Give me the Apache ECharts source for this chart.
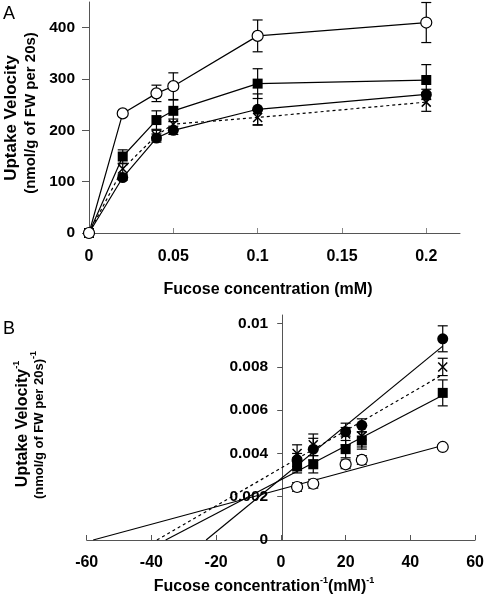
<!DOCTYPE html>
<html><head><meta charset="utf-8">
<script src="https://cdn.jsdelivr.net/npm/echarts@6/dist/echarts.min.js"></script>
<style>html,body{margin:0;padding:0;background:#fff}#c{width:487px;height:607px}</style>
</head><body><div id="c"></div>
<script>
// Panel A data
const concA = [0, 0.02, 0.04, 0.05, 0.1, 0.2];
const openA = [0, 233, 272, 286, 384, 410];
const openAErr = [0, 3, 16, 26, 31, 39];
const squareA = [0, 149, 220, 238, 291, 298];
const squareAErr = [0, 13, 18, 21, 29, 30];
const filledA = [0, 108, 185, 200, 241, 270];
const filledAErr = [0, 5, 8, 8, 30, 10];
const crossA = [0, 125, 190, 212, 225, 255];
const crossAErr = [0, 10, 10, 10, 15, 18];
const xTicksA = [0, 0.05, 0.1, 0.15, 0.2];
const yTicksA = [0, 100, 200, 300, 400];

// Panel B data (double reciprocal)
const invB = [5, 10, 20, 25, 50];
const openB = [0.00245, 0.0026, 0.0035, 0.0037, 0.0043];
const openBErr = [0.0002, 0.0002, 0.0002, 0.0002, 0.0001];
const squareB = [0.0034, 0.0035, 0.0042, 0.0046, 0.0068];
const squareBErr = [0.0003, 0.0004, 0.0004, 0.0004, 0.0006];
const filledB = [0.0037, 0.0042, 0.0050, 0.0053, 0.0093];
const filledBErr = [0.0003, 0.0005, 0.0002, 0.0003, 0.0006];
const crossB = [0.0040, 0.0044, 0.0049, 0.0048, 0.0080];
const crossBErr = [0.0004, 0.0005, 0.0005, 0.0005, 0.0004];
const fitOpenB = [[-58, 0], [50, 0.00437]];
const fitSquareB = [[-35.6, 0], [50, 0.00669]];
const fitFilledB = [[-23.1, 0], [50, 0.00896]];
const fitCrossB = [[-38.3, 0], [50, 0.00765]];
const xTicksB = [-60, -40, -20, 0, 20, 40, 60];
const yTicksB = [0, 0.002, 0.004, 0.006, 0.008, 0.01];

const FONT = '"Liberation Sans", Arial, sans-serif';
const chart = echarts.init(document.getElementById('c'));
const pairs = (xs, ys) => xs.map((x, i) => [x, ys[i]]);
const errs = (xs, ys, es) => xs.map((x, i) => [x, ys[i] - es[i], ys[i] + es[i]]);
function errRender(params, api) {
  const x = api.value(0), lo = api.value(1), hi = api.value(2);
  const p1 = api.coord([x, lo]), p2 = api.coord([x, hi]);
  const w = 5;
  const st = { stroke: '#000', lineWidth: 1.2 };
  return { type: 'group', children: [
    { type: 'line', shape: { x1: p1[0], y1: p1[1], x2: p2[0], y2: p2[1] }, style: st },
    { type: 'line', shape: { x1: p1[0] - w, y1: p1[1], x2: p1[0] + w, y2: p1[1] }, style: st },
    { type: 'line', shape: { x1: p2[0] - w, y1: p2[1], x2: p2[0] + w, y2: p2[1] }, style: st }
  ]};
}
const crossPath = 'path://M0,0L10,10M10,0L0,10';
const mk = {
  open: { symbol: 'circle', symbolSize: 11, itemStyle: { color: '#fff', borderColor: '#000', borderWidth: 1.2, opacity: 1 } },
  square: { symbol: 'rect', symbolSize: 10, itemStyle: { color: '#000', borderColor: '#000', borderWidth: 0, opacity: 1 } },
  filled: { symbol: 'circle', symbolSize: 11, itemStyle: { color: '#000', borderColor: '#000', borderWidth: 0, opacity: 1 } },
  cross: { symbol: crossPath, symbolSize: 9, itemStyle: { color: 'none', borderColor: '#000', borderWidth: 1.5, opacity: 1 } }
};
function errSeries(xi, yi, data) {
  return { type: 'custom', xAxisIndex: xi, yAxisIndex: yi, renderItem: errRender, data: data, z: 2, silent: true };
}
function lineSeries(xi, yi, data, m, dashed, showSym) {
  return Object.assign({ type: 'line', xAxisIndex: xi, yAxisIndex: yi, data: data, z: 3, silent: true,
    showSymbol: showSym, lineStyle: { color: '#000', width: 1.2, type: dashed ? [3, 3] : 'solid' } }, m);
}
function scatterSeries(xi, yi, data, m) {
  return Object.assign({ type: 'scatter', xAxisIndex: xi, yAxisIndex: yi, data: data, z: 4, silent: true }, m);
}
const lab = (size) => ({ color: '#000', fontFamily: FONT, fontWeight: 'bold', fontSize: size });
const axLine = { show: true, onZero: false, lineStyle: { color: '#555', width: 1 } };
const txt = (s, size) => ({ text: s, fontFamily: FONT, fontWeight: 'bold', fontSize: size, fill: '#000', align: 'center', verticalAlign: 'middle',
  rich: { s: { fontFamily: FONT, fontWeight: 'bold', fontSize: 9, fill: '#000', padding: [0, 0, Math.round(size * 0.75), 0] } } });

chart.setOption({
  animation: false,
  grid: [
    { left: 89, right: 27, top: 2, bottom: 374 },
    { left: 86.7, right: 9.3, top: 315, bottom: 67 }
  ],
  xAxis: [
    { type: 'value', gridIndex: 0, min: 0, max: 0.22, splitLine: { show: false },
      axisLine: axLine, axisTick: { inside: true, length: 5, customValues: xTicksA, lineStyle: { color: '#888' } },
      axisLabel: Object.assign({ margin: 16, customValues: xTicksA }, lab(16)) },
    { type: 'value', gridIndex: 1, min: -60, max: 60, splitLine: { show: false },
      axisLine: axLine, axisTick: { inside: true, length: 5, customValues: xTicksB, lineStyle: { color: '#555' } },
      axisLabel: Object.assign({ margin: 15, customValues: xTicksB }, lab(16)) }
  ],
  yAxis: [
    { type: 'value', gridIndex: 0, min: 0, max: 450, splitLine: { show: false },
      axisLine: axLine, axisTick: { inside: false, length: 7, customValues: yTicksA, lineStyle: { color: '#555' } },
      axisLabel: Object.assign({ margin: 14, customValues: yTicksA }, lab(15.5)) },
    { type: 'value', gridIndex: 1, min: 0, max: 0.0104, splitLine: { show: false }, offset: -195.5,
      axisLine: axLine,
      axisTick: { inside: false, length: 5, customValues: yTicksB, lineStyle: { color: '#555' } },
      axisLabel: Object.assign({ margin: 14, customValues: yTicksB }, lab(15.5)) }
  ],
  graphic: [
    { type: 'text', left: 3, top: 5, style: { text: 'A', fontFamily: FONT, fontSize: 18, fill: '#000' } },
    { type: 'text', left: 3, top: 320, style: { text: 'B', fontFamily: FONT, fontSize: 18, fill: '#000' } },
    { type: 'text', x: 268, y: 290, style: txt('Fucose concentration (mM)', 16) },
    { type: 'text', x: 11, y: 118, rotation: Math.PI / 2, style: txt('Uptake Velocity', 17) },
    { type: 'text', x: 31, y: 113, rotation: Math.PI / 2, style: txt('(nmol/g of FW per 20s)', 15) },
    { type: 'text', x: 264, y: 587, style: txt('Fucose concentration{s|-1}(mM){s|-1}', 16) },
    { type: 'text', x: 23, y: 424, rotation: Math.PI / 2, style: txt('Uptake Velocity{s|-1}', 16) },
    { type: 'text', x: 39, y: 425, rotation: Math.PI / 2, style: txt('(nmol/g of FW per 20s){s|-1}', 13) }
  ],
  series: [
    errSeries(0, 0, errs(concA, openA, openAErr)),
    errSeries(0, 0, errs(concA, squareA, squareAErr)),
    errSeries(0, 0, errs(concA, filledA, filledAErr)),
    errSeries(0, 0, errs(concA, crossA, crossAErr)),
    lineSeries(0, 0, pairs(concA, crossA), mk.cross, true, true),
    lineSeries(0, 0, pairs(concA, filledA), mk.filled, false, true),
    lineSeries(0, 0, pairs(concA, squareA), mk.square, false, true),
    lineSeries(0, 0, pairs(concA, openA), mk.open, false, true),

    lineSeries(1, 1, fitOpenB, {}, false, false),
    lineSeries(1, 1, fitSquareB, {}, false, false),
    lineSeries(1, 1, fitFilledB, {}, false, false),
    lineSeries(1, 1, fitCrossB, {}, true, false),
    errSeries(1, 1, errs(invB, openB, openBErr)),
    errSeries(1, 1, errs(invB, squareB, squareBErr)),
    errSeries(1, 1, errs(invB, filledB, filledBErr)),
    errSeries(1, 1, errs(invB, crossB, crossBErr)),
    scatterSeries(1, 1, pairs(invB, crossB), mk.cross),
    scatterSeries(1, 1, pairs(invB, squareB), mk.square),
    scatterSeries(1, 1, pairs(invB, filledB), mk.filled),
    scatterSeries(1, 1, pairs(invB, openB), mk.open)
  ]
});
</script></body></html>
